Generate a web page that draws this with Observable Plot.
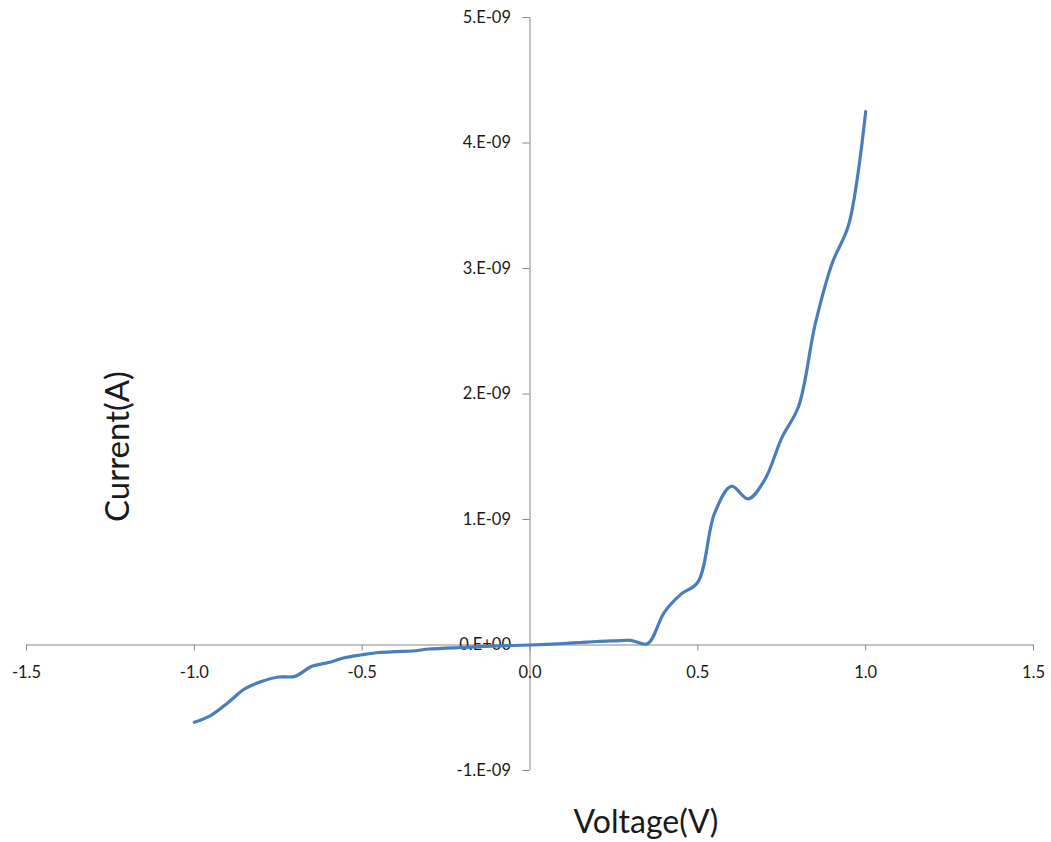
<!DOCTYPE html>
<html>
<head>
<meta charset="utf-8">
<script src="https://cdn.jsdelivr.net/npm/d3@7"></script>
<script src="https://cdn.jsdelivr.net/npm/@observablehq/plot@0.6"></script>
<style>
  html, body { margin: 0; padding: 0; background: #fff; }
  #chart svg { display: block; }
</style>
</head>
<body>
<div id="chart"></div>
<script>
const voltage = [-1.00,-0.95,-0.90,-0.85,-0.80,-0.75,-0.70,-0.65,-0.60,-0.55,-0.50,-0.45,-0.40,-0.35,-0.30,-0.25,-0.20,-0.15,-0.10,-0.05,
  0.00,0.05,0.10,0.15,0.20,0.25,0.30,0.35,0.40,0.45,0.50,0.55,0.60,0.65,0.70,0.75,0.80,0.85,0.90,0.95,1.00];
const currentE9 = [-0.615,-0.56,-0.46,-0.35,-0.29,-0.255,-0.25,-0.17,-0.14,-0.10,-0.078,-0.06,-0.053,-0.048,-0.032,-0.025,-0.02,-0.013,-0.008,-0.004,
  0.0,0.005,0.012,0.02,0.028,0.033,0.037,0.01,0.26,0.405,0.50,1.05,1.265,1.165,1.32,1.65,1.90,2.56,3.04,3.355,4.25];
const xTicks = [-1.5,-1.0,-0.5,0.0,0.5,1.0,1.5];
const xTickLabels = ["-1.5","-1.0","-0.5","0.0","0.5","1.0","1.5"];
const yTicks = [-1e-9,0,1e-9,2e-9,3e-9,4e-9,5e-9];
const yTickLabels = ["-1.E-09","0.E+00","1.E-09","2.E-09","3.E-09","4.E-09","5.E-09"];
const xTitle = "Voltage(V)";
const yTitle = "Current(A)";

const data = voltage.map((v, i) => ({v, c: currentE9[i] * 1e-9}));
const xt = xTicks.map((t, i) => ({t, label: xTickLabels[i]}));
const yt = yTicks.map((t, i) => ({t, label: yTickLabels[i]}));

const axisColor = "#868686";
const font = "Lato, 'Open Sans', sans-serif";

const chart = Plot.plot({
  width: 1051,
  height: 842,
  marginLeft: 26,
  marginRight: 18,
  marginTop: 17,
  marginBottom: 72,
  style: {fontFamily: font, background: "#fff"},
  x: {domain: [-1.5, 1.5], axis: null},
  y: {domain: [-1e-9, 5e-9], axis: null},
  marks: [
    Plot.ruleY([0], {stroke: axisColor, strokeWidth: 1}),
    Plot.ruleX([0], {stroke: axisColor, strokeWidth: 1}),
    Plot.ruleX(xt, {x: "t", y1: 0, y2: -0.048e-9, stroke: axisColor, strokeWidth: 1}),
    Plot.ruleY(yt, {y: "t", x1: 0, x2: -0.021, stroke: axisColor, strokeWidth: 1}),
    Plot.text(xt, {x: "t", y: 0, text: "label", dy: 28, fontSize: 16.5, fill: "#1a1a1a", lineAnchor: "middle"}),
    Plot.text(yt, {x: 0, y: "t", text: "label", dx: -19, textAnchor: "end", fontSize: 16.5, fill: "#1a1a1a"}),
    Plot.line(data, {x: "v", y: "c", stroke: "#4a7ebb", strokeWidth: 3.2, curve: "catmull-rom"}),
    Plot.text([xTitle], {frameAnchor: "bottom", text: d => d, dx: 116, dy: 52, fontSize: 32, fill: "#1a1a1a", lineAnchor: "middle"}),
    Plot.text([yTitle], {frameAnchor: "left", text: d => d, dx: 92, dy: 128, rotate: -90, fontSize: 33, fill: "#1a1a1a"})
  ]
});
document.getElementById("chart").appendChild(chart);
</script>
</body>
</html>
